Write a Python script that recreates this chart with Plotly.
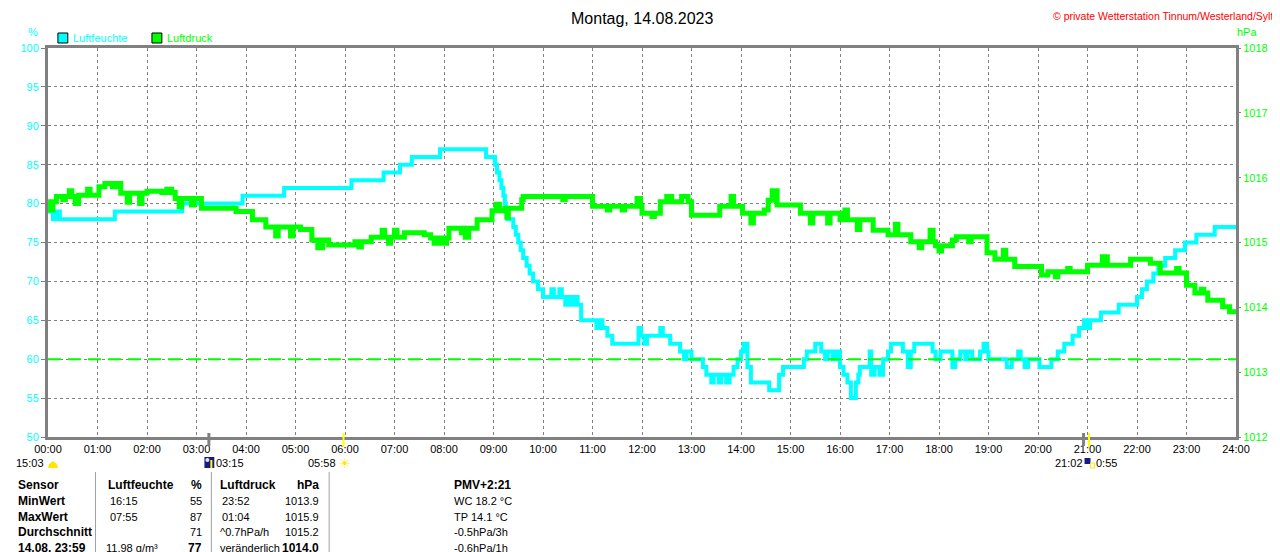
import plotly.graph_objects as go

# Luftfeuchte (%), time in hours, step values
hum_t = [0.00, 0.10, 0.17, 0.24, 1.35, 2.71, 3.93, 4.77, 6.13, 6.78, 7.11, 7.35, 7.92, 8.85,
         9.03, 9.07, 9.12, 9.16, 9.20, 9.23, 9.25, 9.28, 9.40, 9.45, 9.50, 9.55, 9.60, 9.67,
         9.73, 9.80, 9.90, 10.00, 10.17, 10.22, 10.33, 10.38, 10.45, 10.50, 10.58, 10.62, 10.70,
         10.77, 11.08, 11.12, 11.20, 11.30, 11.40, 11.93, 11.98, 12.05, 12.10, 12.37, 12.42,
         12.57, 12.77, 12.85, 12.90, 13.00, 13.23, 13.30, 13.40, 13.45, 13.55, 13.60, 13.70,
         13.77, 13.85, 13.93, 14.00, 14.05, 14.13, 14.20, 14.57, 14.77, 14.85, 15.27, 15.33,
         15.50, 15.62, 15.70, 15.75, 15.85, 15.93, 16.00, 16.07, 16.15, 16.22, 16.32, 16.37,
         16.40, 16.60, 16.63, 16.70, 16.80, 16.87, 16.97, 17.03, 17.27, 17.37, 17.43, 17.50,
         17.87, 17.93, 18.03, 18.27, 18.33, 18.43, 18.53, 18.58, 18.67, 18.83, 18.90, 18.97,
         19.00, 19.37, 19.47, 19.60, 19.65, 19.73, 19.80, 20.03, 20.27, 20.40, 20.53, 20.70,
         20.83, 20.93, 21.00, 21.05, 21.27, 21.63, 22.00, 22.10, 22.20, 22.33, 22.43, 22.57,
         22.77, 22.97, 23.20, 23.57, 24.00]
hum_v = [79, 78, 79, 78, 79, 80, 81, 82, 83, 84, 85, 86, 87, 86,
         85, 84, 83, 82, 81, 80, 79, 78, 77, 76, 75, 74, 73, 72,
         71, 70, 69, 68, 69, 68, 69, 68, 67, 68, 67, 68, 67,
         65, 64, 65, 64, 63, 62, 64, 63, 62, 63, 64, 63,
         62, 61, 60, 61, 60, 59, 58, 57, 58, 57, 58, 57,
         58, 59, 60, 61, 62, 59, 57, 56, 58, 59, 60, 61,
         62, 61, 60, 61, 60, 61, 59, 58, 57, 55, 57, 58,
         59, 61, 58, 59, 58, 60, 61, 62, 61, 59, 61, 62,
         61, 60, 61, 59, 60, 61, 60, 61, 60, 61, 62, 61,
         60, 59, 60, 61, 60, 59, 60, 59, 60, 61, 62, 63,
         64, 65, 64, 65, 66, 67, 68, 69, 70, 71, 72, 73,
         74, 75, 76, 77, 77]

# Luftdruck (hPa)
press_t = [0.00, 0.05, 0.10, 0.17, 0.30, 0.35, 0.43, 0.48, 0.55, 0.62, 0.80, 0.85, 1.03, 1.15,
           1.30, 1.40, 1.47, 1.60, 1.65, 1.85, 1.90, 2.00, 2.30, 2.40, 2.50, 2.57, 2.65, 2.70,
           2.90, 2.95, 3.10, 3.80, 4.13, 4.40, 4.60, 4.65, 4.90, 4.95, 5.10, 5.33, 5.45, 5.55,
           5.67, 6.20, 6.28, 6.33, 6.53, 6.75, 6.80, 6.88, 6.92, 7.00, 7.05, 7.20, 7.60, 7.73,
           7.80, 7.85, 7.95, 8.05, 8.10, 8.35, 8.40, 8.43, 8.50, 8.67, 8.97, 9.05, 9.12, 9.23,
           9.27, 9.30, 9.57, 9.60, 10.40, 10.45, 11.00, 11.30, 11.35, 11.60, 11.65, 11.90, 11.97,
           12.00, 12.20, 12.25, 12.37, 12.50, 12.60, 12.80, 12.93, 13.00, 13.53, 13.57, 13.80,
           13.85, 14.03, 14.20, 14.25, 14.47, 14.55, 14.63, 14.73, 15.20, 15.40, 15.45, 15.75,
           15.80, 16.00, 16.10, 16.15, 16.35, 16.40, 16.67, 16.97, 17.12, 17.17, 17.43, 17.60,
           17.65, 17.82, 17.88, 17.93, 18.00, 18.05, 18.27, 18.35, 18.60, 18.65, 18.97, 19.13,
           19.30, 19.35, 19.53, 20.07, 20.20, 20.35, 20.40, 20.60, 20.65, 21.00, 21.30, 21.40,
           21.87, 22.27, 22.47, 22.80, 22.85, 23.00, 23.17, 23.30, 23.35, 23.43, 23.73, 23.87,
           24.00]
press_v = [1015.63, 1015.50, 1015.63, 1015.71, 1015.66, 1015.71, 1015.80, 1015.71, 1015.60,
           1015.73, 1015.82, 1015.73, 1015.86, 1015.91, 1015.86, 1015.91, 1015.76, 1015.62,
           1015.76, 1015.60, 1015.76, 1015.79, 1015.77, 1015.82, 1015.77, 1015.68, 1015.55,
           1015.68, 1015.58, 1015.68, 1015.53, 1015.48, 1015.35, 1015.24, 1015.10, 1015.24,
           1015.10, 1015.24, 1015.20, 1015.04, 1014.92, 1015.04, 1014.96, 1015.01, 1014.93,
           1015.01, 1015.08, 1015.19, 1015.08, 1014.99, 1015.08, 1015.19, 1015.08, 1015.15,
           1015.12, 1015.07, 1014.99, 1015.07, 1014.99, 1015.07, 1015.22, 1015.15, 1015.22,
           1015.08, 1015.22, 1015.35, 1015.49, 1015.59, 1015.49, 1015.53, 1015.39, 1015.53,
           1015.66, 1015.71, 1015.66, 1015.71, 1015.56, 1015.50, 1015.56, 1015.50, 1015.56,
           1015.68, 1015.56, 1015.45, 1015.40, 1015.45, 1015.63, 1015.71, 1015.63, 1015.71,
           1015.63, 1015.42, 1015.42, 1015.56, 1015.71, 1015.56, 1015.45, 1015.30, 1015.45,
           1015.50, 1015.65, 1015.80, 1015.58, 1015.45, 1015.30, 1015.45, 1015.30, 1015.45,
           1015.35, 1015.50, 1015.35, 1015.20, 1015.35, 1015.19, 1015.12, 1015.28, 1015.12,
           1015.01, 1014.92, 1015.01, 1015.19, 1015.01, 1014.95, 1014.87, 1014.95, 1015.04,
           1015.09, 1015.01, 1015.09, 1014.84, 1014.74, 1014.88, 1014.74, 1014.63, 1014.50,
           1014.55, 1014.47, 1014.55, 1014.60, 1014.55, 1014.65, 1014.78, 1014.65, 1014.74,
           1014.68, 1014.53, 1014.60, 1014.53, 1014.34, 1014.22, 1014.28, 1014.22, 1014.11,
           1014.01, 1013.93, 1013.96]

hours = list(range(25))
hour_labels = [f"{h:02d}:00" for h in hours]

# Table below the chart
table_rows = [
    ["Sensor", "Luftfeuchte", "%", "Luftdruck", "hPa", "PMV+2:21"],
    ["MinWert", "16:15", "55", "23:52", "1013.9", "WC 18.2 °C"],
    ["MaxWert", "07:55", "87", "01:04", "1015.9", "TP 14.1 °C"],
    ["Durchschnitt", "", "71", "^0.7hPa/h", "1015.2", "-0.5hPa/3h"],
    ["14.08. 23:59", "11.98 g/m³", "77", "veränderlich", "1014.0", "-0.6hPa/1h"],
]

CYAN = "#00FFFF"
GREEN = "#00FF00"
GRAY = "#808080"
FONT = "Liberation Sans"

# the page body adds an 8px margin, so the figure is 8px smaller each way
W, H = 1272, 544


def px(x):
    # reference pixel x -> paper fraction (plot area spans x 40..1240)
    return (x - 40) / 1200


def py(y):
    # reference pixel y -> paper fraction (plot area spans y 48..437)
    return (437 - y) / 389


fig = go.Figure()
fig.add_trace(go.Scatter(x=press_t, y=press_v, yaxis="y2", mode="lines",
                         line=dict(color=GREEN, width=5, shape="hv"), showlegend=False))
fig.add_trace(go.Scatter(x=hum_t, y=hum_v, mode="lines",
                         line=dict(color=CYAN, width=4, shape="hv"), showlegend=False))

ann = []
ann.append(dict(x=0.5, y=py(8), yanchor="top", text="Montag, 14.08.2023",
                font=dict(size=16, color="black")))
ann.append(dict(x=px(1279), y=py(8), xanchor="right", yanchor="top",
                text="© private Wetterstation Tinnum/Westerland/Sylt",
                font=dict(size=10.5, color="red")))
ann.append(dict(x=px(25), y=py(32), text="%", font=dict(size=11, color=CYAN)))
ann.append(dict(x=px(1251), y=py(32), text="hPa", font=dict(size=11, color=GREEN)))
ann.append(dict(x=px(63), y=py(38), xanchor="left", text="Luftfeuchte", font=dict(size=11, color=CYAN)))
ann.append(dict(x=px(158), y=py(38), xanchor="left", text="Luftdruck", font=dict(size=11, color=GREEN)))

# sun / moon times
ann.append(dict(x=px(38), y=py(463), xanchor="right", text="15:03", font=dict(size=11, color="black")))
ann.append(dict(x=px(208), y=py(463), xanchor="left", text="03:15", font=dict(size=11, color="black")))
ann.append(dict(x=px(333), y=py(463), xanchor="right", text="05:58", font=dict(size=11, color="black")))
ann.append(dict(x=px(340), y=py(463), text="☀", font=dict(size=13, color="#FFE600", family="DejaVu Sans")))
ann.append(dict(x=px(1087), y=py(463), xanchor="right", text="21:02", font=dict(size=11, color="black")))
ann.append(dict(x=px(1097), y=py(463), xanchor="left", text="0:55", font=dict(size=11, color="black")))

# table text
col_x = [8, 99, 198, 212, 316, 448]
col_anchor = ["left", "left", "right", "left", "right", "left"]
row_y = [485, 501, 517, 532, 548]
for r, row in enumerate(table_rows):
    for c, txt in enumerate(row):
        if not txt:
            continue
        bold = r == 0 or c == 0 or (r == 4 and c in (2, 4))
        x = col_x[c]
        if r > 0 and c in (1, 3) and txt[0].isdigit() and ":" in txt:
            x += 2
        if r == 4 and c == 1:
            x -= 2
        ann.append(dict(x=px(x), y=py(row_y[r]), xanchor=col_anchor[c],
                        text=f"<b>{txt}</b>" if bold else txt,
                        font=dict(size=12 if bold else 11, color="black")))

for a in ann:
    a.setdefault("xref", "paper")
    a.setdefault("yref", "paper")
    a.setdefault("showarrow", False)
    a.setdefault("xanchor", "center")
    a.setdefault("yanchor", "middle")

shapes = []
# dashed 60% reference line
shapes.append(dict(type="line", x0=0, x1=24, y0=60, y1=60, xref="x", yref="y",
                   line=dict(color=GREEN, width=2, dash="13px,7px")))
# legend boxes
shapes.append(dict(type="rect", x0=px(50), x1=px(60), y0=py(43), y1=py(33),
                   fillcolor=CYAN, line=dict(color="black", width=1)))
shapes.append(dict(type="rect", x0=px(145), x1=px(155), y0=py(43), y1=py(33),
                   fillcolor=GREEN, line=dict(color="black", width=1)))
# moon / sun marks on x axis
shapes.append(dict(type="line", x0=3.25, x1=3.25, y0=py(433), y1=py(446), xref="x",
                   line=dict(color=GRAY, width=3)))
shapes.append(dict(type="line", x0=20.92, x1=20.92, y0=py(433), y1=py(446), xref="x",
                   line=dict(color=GRAY, width=3)))
shapes.append(dict(type="line", x0=5.97, x1=5.97, y0=py(433), y1=py(447), xref="x",
                   line=dict(color="#FFFF00", width=2)))
shapes.append(dict(type="line", x0=21.03, x1=21.03, y0=py(433), y1=py(447), xref="x",
                   line=dict(color="#FFFF00", width=2)))
# icons
shapes.append(dict(type="path", path=f"M {px(40)},{py(468)} L {px(41)},{py(464)} L {px(45)},{py(461)} "
                                     f"L {px(49)},{py(464)} L {px(50)},{py(468)} Z",
                   fillcolor="#FFE600", line=dict(width=0)))
shapes.append(dict(type="rect", x0=px(198), x1=px(208), y0=py(468), y1=py(457),
                   fillcolor="#1A1A80", line=dict(width=0)))
shapes.append(dict(type="circle", x0=px(199), x1=px(203), y0=py(462), y1=py(458),
                   fillcolor="#E0E8FF", line=dict(width=0)))
shapes.append(dict(type="line", x0=px(205), x1=px(205), y0=py(468), y1=py(460),
                   line=dict(color="#FFFF00", width=2)))
shapes.append(dict(type="rect", x0=px(1087), x1=px(1093), y0=py(464), y1=py(458),
                   fillcolor="#1A1A80", line=dict(width=0)))
shapes.append(dict(type="rect", x0=px(1093), x1=px(1097), y0=py(468), y1=py(463),
                   fillcolor="rgba(0,0,0,0)", line=dict(color="#FFE600", width=1)))
# table separators
for sx in (88, 205, 324, 1279):
    shapes.append(dict(type="line", x0=px(sx), x1=px(sx), y0=py(472), y1=py(552),
                       line=dict(color="#A0A0A0", width=1)))
for s in shapes:
    s.setdefault("xref", "paper")
    s.setdefault("yref", "paper")

fig.update_layout(
    width=W, height=H,
    margin=dict(l=32, r=W - 1232, t=40, b=H - 429, pad=0),
    paper_bgcolor="white", plot_bgcolor="white",
    font=dict(family=FONT, size=11, color="black"),
    showlegend=False,
    xaxis=dict(range=[0, 24], tickvals=hours, ticktext=hour_labels, showgrid=True,
               gridcolor=GRAY, griddash="3px,3px", gridwidth=1, zeroline=False,
               showline=True, linecolor=GRAY, linewidth=3, mirror=True,
               ticks="", tickfont=dict(size=11, color="black")),
    yaxis=dict(range=[50, 100], dtick=5, showgrid=True, gridcolor=GRAY, griddash="3px,3px",
               gridwidth=1, zeroline=False, showline=True, linecolor=GRAY, linewidth=3,
               mirror=True, ticks="outside", ticklen=4, tickcolor=GRAY,
               tickfont=dict(size=11, color=CYAN)),
    yaxis2=dict(range=[1012, 1018], dtick=1, overlaying="y", side="right", showgrid=False,
                zeroline=False, ticks="outside", ticklen=4, tickcolor=GRAY,
                tickfont=dict(size=11, color=GREEN)),
    annotations=ann,
    shapes=shapes,
)

fig.write_html("out.html")
